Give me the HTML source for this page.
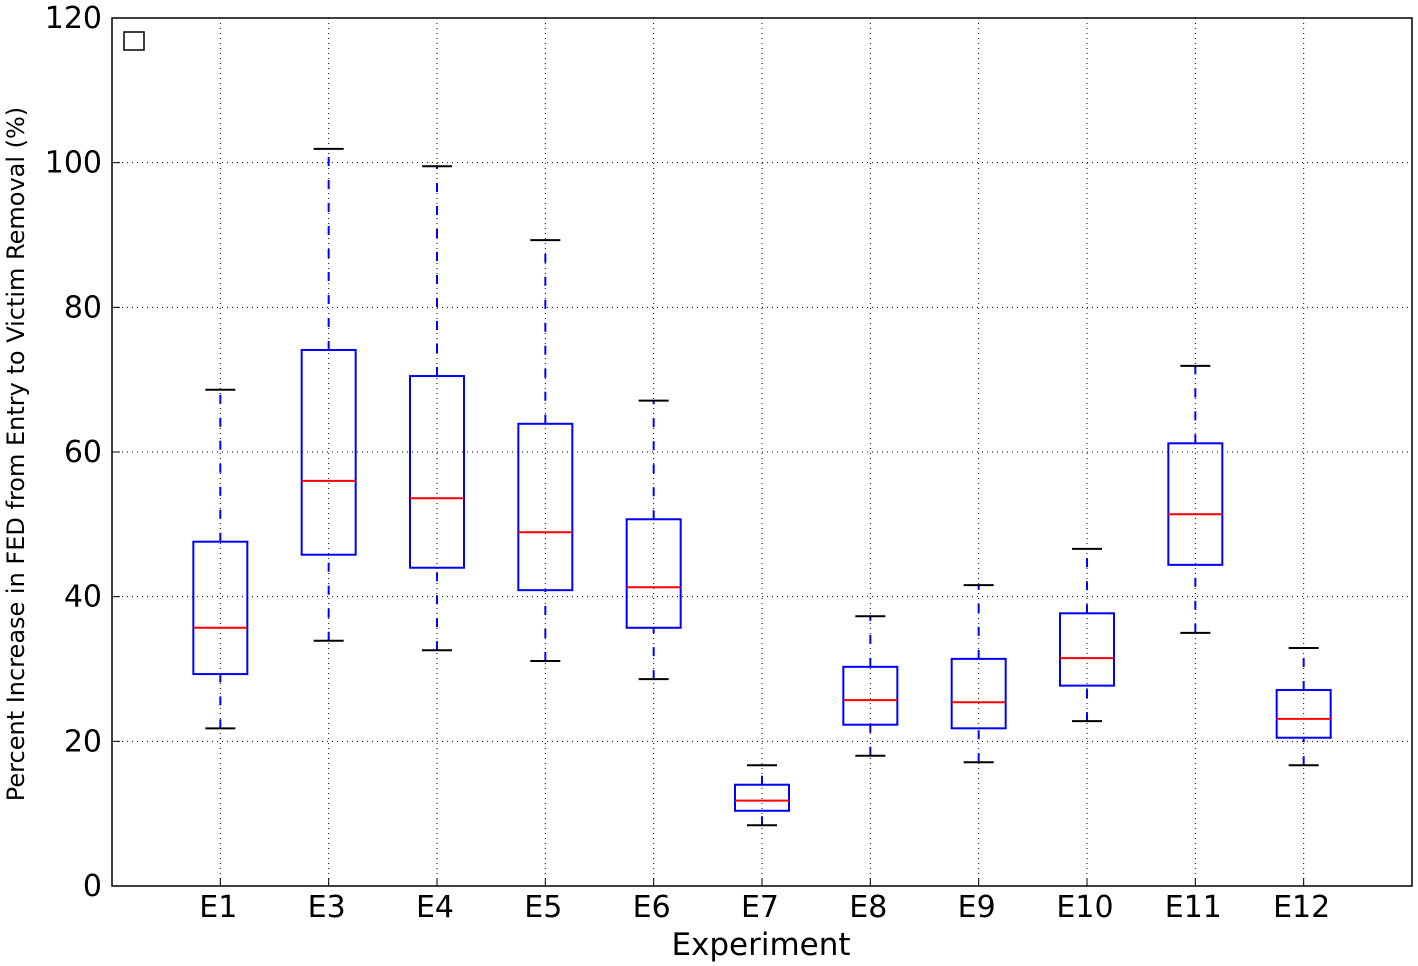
<!DOCTYPE html>
<html><head><meta charset="utf-8"><style>
body{margin:0;background:#fff;}
svg{display:block;font-family:"DejaVu Sans","Liberation Sans",sans-serif;}
</style></head><body>
<svg id="chart" width="1418" height="966">
<rect x="0" y="0" width="1418" height="966" fill="#fff"/>
<g id="grid"></g>
<g id="boxes"></g>
<rect x="112" y="18" width="1300" height="868" fill="none" stroke="#000" stroke-width="1.5"/>
<g id="axes"></g>
<rect x="124" y="32" width="20" height="18" fill="none" stroke="#000" stroke-width="1.5"/>
<text x="761" y="955" font-size="31" text-anchor="middle">Experiment</text>
<text transform="translate(24,454) rotate(-90)" font-size="24" text-anchor="middle">Percent Increase in FED from Entry to Victim Removal (%)</text>
</svg>
<script>
const categories=["E1","E3","E4","E5","E6","E7","E8","E9","E10","E11","E12"];
const whiskerLow=[21.8,33.9,32.6,31.1,28.6,8.4,18.0,17.1,22.8,35.0,16.7];
const q1=[29.3,45.8,44.0,40.9,35.7,10.4,22.3,21.8,27.7,44.4,20.5];
const medians=[35.7,56.0,53.6,48.9,41.3,11.8,25.7,25.4,31.5,51.4,23.1];
const q3=[47.6,74.1,70.5,63.9,50.7,14.0,30.3,31.4,37.7,61.2,27.1];
const whiskerHigh=[68.6,101.9,99.5,89.3,67.1,16.7,37.3,41.6,46.6,71.9,32.9];
const yTicks=[0,20,40,60,80,100,120];
const NS="http://www.w3.org/2000/svg";
const X0=112,X1=1412,Y0=886,Y1=18,YMAX=120;
const xs=i=>X0+(X1-X0)/(categories.length+1)*(i+1);
const ys=v=>Y0-(Y0-Y1)*v/YMAX;
function mk(parent,tag,attrs){const e=document.createElementNS(NS,tag);for(const k in attrs)e.setAttribute(k,attrs[k]);document.getElementById(parent).appendChild(e);return e;}
yTicks.forEach(t=>{
  const y=ys(t);
  if(t>0&&t<YMAX){const g=mk("grid","line",{x1:X0,x2:X1,y1:y,y2:y,stroke:"#000","stroke-width":1,"stroke-dasharray":"1,4"});
  
  }
  const tk=mk("axes","line",{x1:X0,x2:X0+8,y1:y,y2:y,stroke:"#000"});
  
  
  const tx=mk("axes","text",{x:X0-10,y:y+10,"font-size":30,"text-anchor":"end"});tx.textContent=t;
  
  
});
categories.forEach((c,i)=>{
  const x=xs(i);
  const g=mk("grid","line",{x1:x,x2:x,y1:Y1,y2:Y0,stroke:"#000","stroke-width":1,"stroke-dasharray":"1,4"});
  
  
  const tk=mk("axes","line",{x1:x,x2:x,y1:Y0,y2:Y0-8,stroke:"#000"});
  
  
  const tx=mk("axes","text",{x:x-2,y:Y0+31,"font-size":30,"text-anchor":"middle"});tx.textContent=c;
  
  
  const hw=27,cw=15;
  const wl=mk("boxes","line",{x1:x,x2:x,y1:ys(whiskerLow[i]),y2:ys(q1[i]),stroke:"#00f","stroke-width":2,"stroke-dasharray":"9,14"});
  
  
  const wh=mk("boxes","line",{x1:x,x2:x,y1:ys(q3[i]),y2:ys(whiskerHigh[i]),stroke:"#00f","stroke-width":2,"stroke-dasharray":"9,14"});
  
  
  const cl=mk("boxes","line",{x1:x-cw,x2:x+cw,y1:ys(whiskerLow[i]),y2:ys(whiskerLow[i]),stroke:"#000","stroke-width":2});
  
  
  const ch=mk("boxes","line",{x1:x-cw,x2:x+cw,y1:ys(whiskerHigh[i]),y2:ys(whiskerHigh[i]),stroke:"#000","stroke-width":2});
  
  
  const b=mk("boxes","rect",{x:x-hw,y:ys(q3[i]),width:2*hw,height:ys(q1[i])-ys(q3[i]),fill:"none",stroke:"#00f","stroke-width":2});
  
  
  const m=mk("boxes","line",{x1:x-hw,x2:x+hw,y1:ys(medians[i]),y2:ys(medians[i]),stroke:"#f00","stroke-width":2});
  
  
});
</script>
</body></html>
